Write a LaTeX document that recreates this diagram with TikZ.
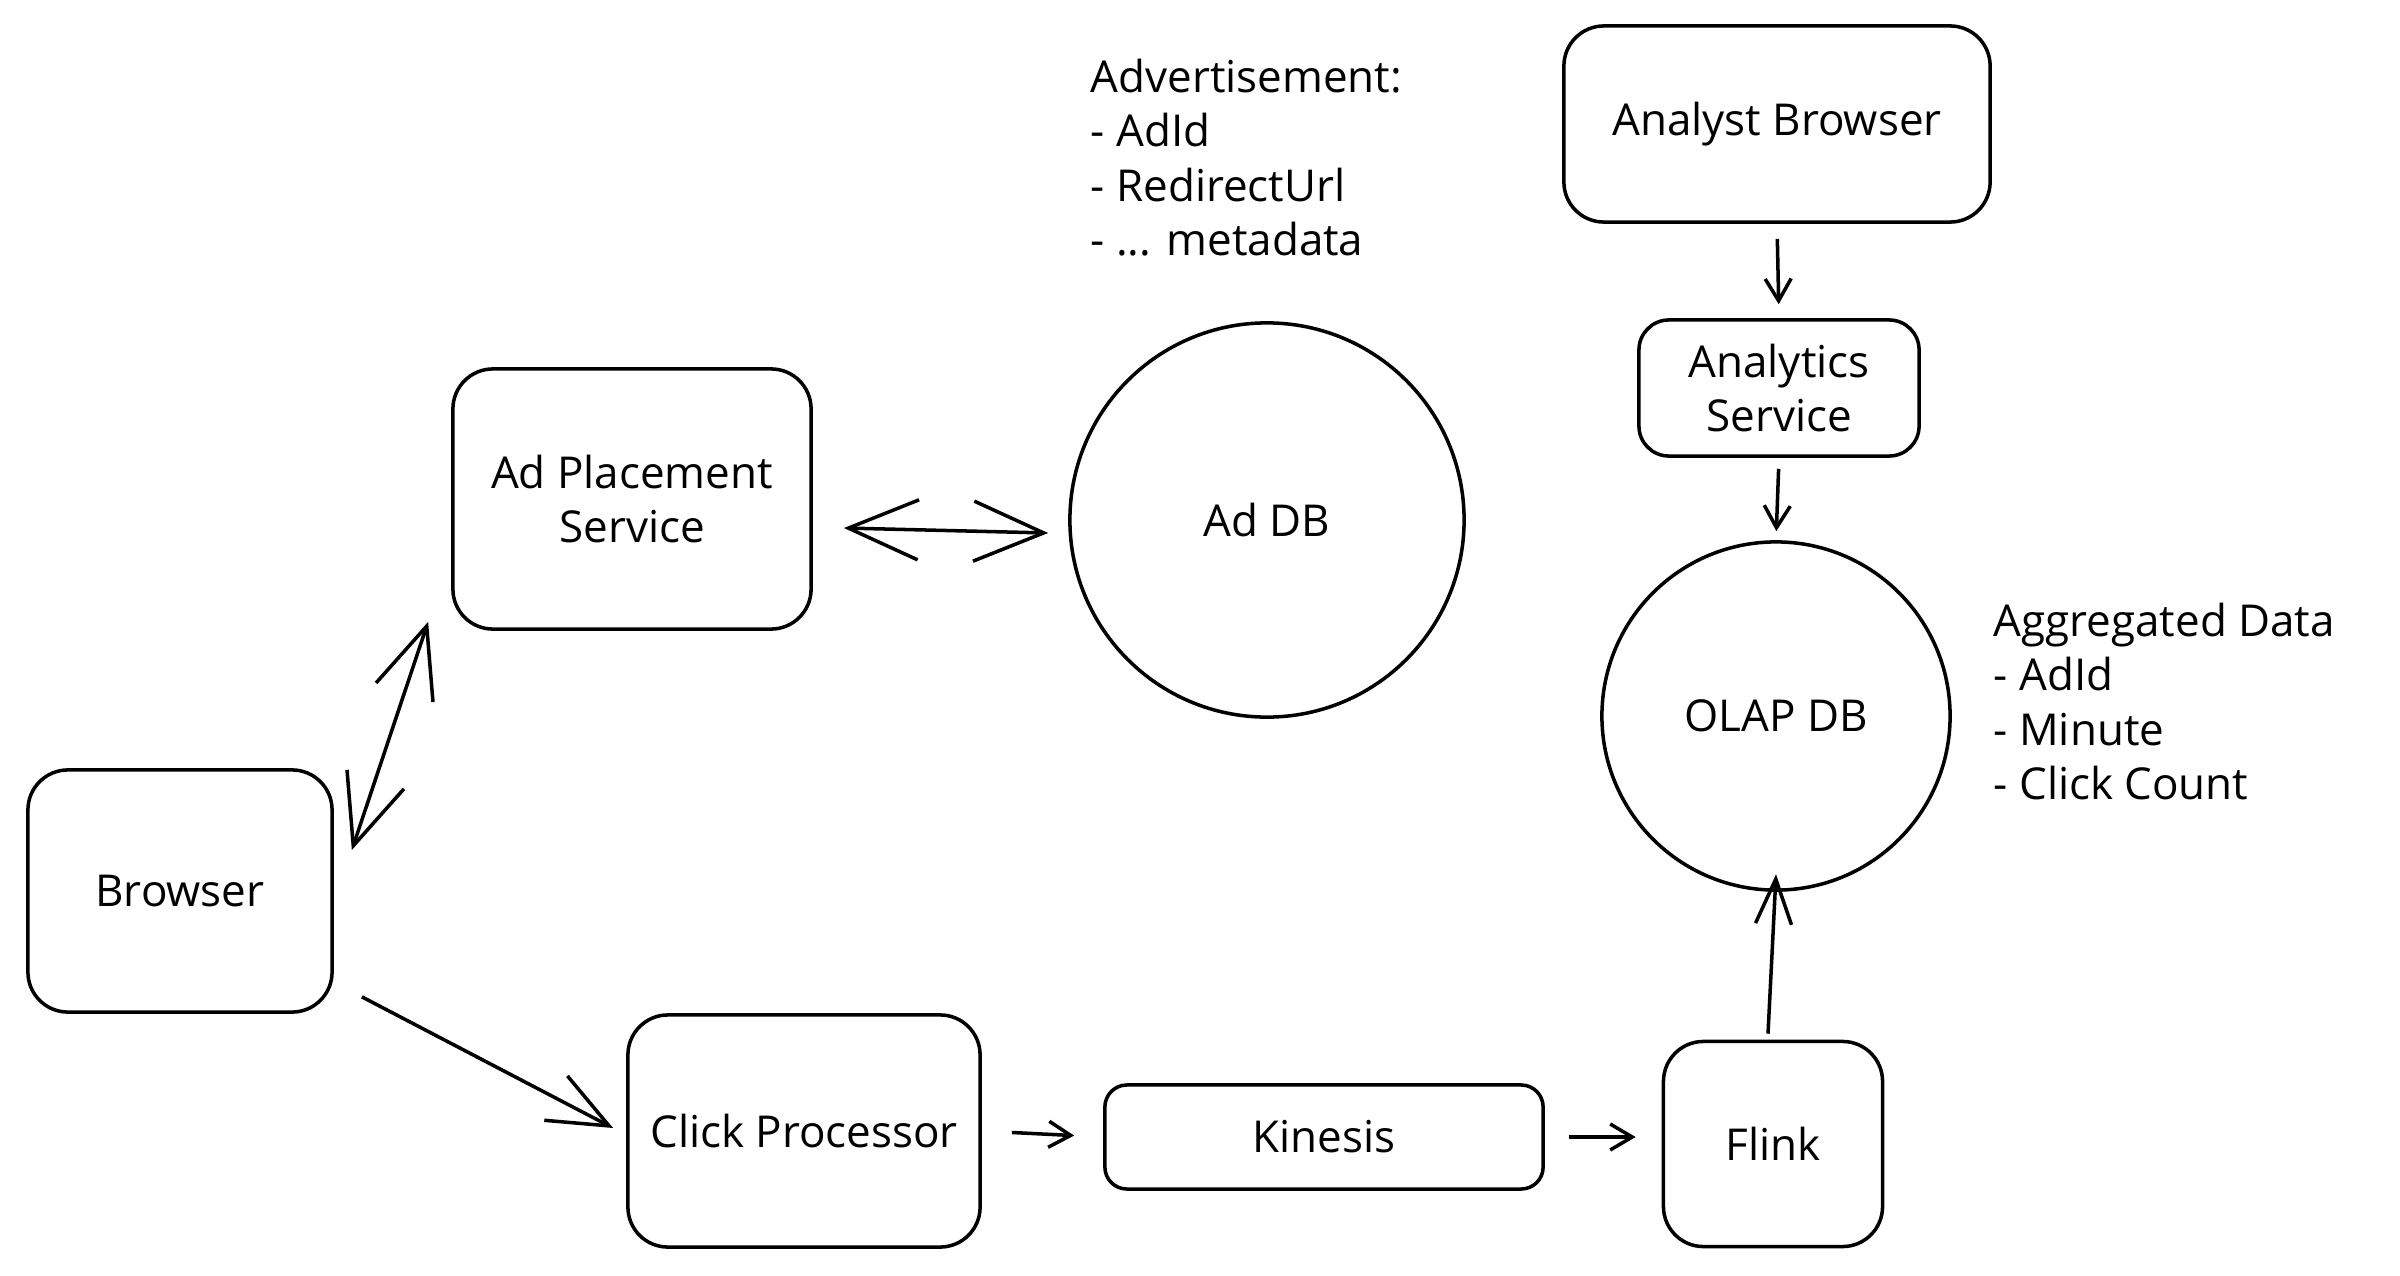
\documentclass[tikz,border=0pt]{standalone}
\usepackage{fontspec}
\setmainfont{Open Sans}
\usetikzlibrary{arrows.meta,calc}
\newcommand{\handfont}{\fontsize{12.5}{15.5}\selectfont}

\tikzset{
	box/.style={draw, line width=1pt, rounded corners=0.4cm, align=center, inner sep=0pt, font=\handfont},
	dbcircle/.style={draw, circle, line width=1pt, inner sep=0pt, font=\handfont},
	notes/.style={anchor=north west, align=left, inner sep=0pt, font=\handfont},
	bighead/.style={line width=1pt, {Straight Barb[length=0.7cm,width=0.6cm]}-{Straight Barb[length=0.7cm,width=0.6cm]}},
	longflow/.style={line width=1pt, -{Straight Barb[length=0.6cm,width=0.5cm]}},
	shortflow/.style={line width=1pt, -{Straight Barb[length=0.22cm,width=0.26cm]}}
}

\begin{document}
\begin{tikzpicture}[x=0.01cm, y=-0.01cm]
			%%%%% START %%%%%
			\useasboundingbox (0, 0) rectangle (2400, 1276);
			
			\node[box, minimum width=3.04cm, minimum height=2.42cm] (browser) at (180, 891) {Browser};
			\node[box, minimum width=3.58cm, minimum height=2.60cm] (adplace) at (632, 499) {Ad Placement\\Service};
			\node[dbcircle, minimum size=3.94cm] (addb) at (1267, 520) {Ad DB};
			\node[notes] (adnote) at (1090, 58) {Advertisement:\\- AdId\\- RedirectUrl\\- ... metadata};
			
			\node[box, minimum width=4.26cm, minimum height=1.96cm] (analyst) at (1777, 124) {Analyst Browser};
			\node[box, rounded corners=0.3cm, minimum width=2.80cm, minimum height=1.36cm] (analytics) at (1779, 388) {Analytics\\Service};
			\node[dbcircle, minimum size=3.48cm] (olap) at (1776, 716) {OLAP DB};
			\node[notes] (aggnote) at (1993, 602) {Aggregated Data\\- AdId\\- Minute\\- Click Count};
			
			\node[box, minimum width=3.52cm, minimum height=2.32cm] (clickproc) at (804, 1131) {Click Processor};
			\node[box, rounded corners=0.22cm, minimum width=4.38cm, minimum height=1.04cm] (kinesis) at (1324, 1137) {Kinesis};
			\node[box, minimum width=2.19cm, minimum height=2.05cm] (flink) at (1773, 1144) {Flink};
			
			% serving path
			\draw[bighead] ([shift={(18,-41)}]browser.east) -- ([shift={(-23,-9)}]adplace.south west);
			\draw[bighead] ([shift={(31,29)}]adplace.east) -- ([shift={(-20,13)}]addb.west);
			
			% click path
			\draw[longflow] ([shift={(28,-17)}]browser.south east) -- ([shift={(-13,-3)}]clickproc.west);
			\draw[shortflow, shorten <=0.3cm, shorten >=0.29cm] (clickproc.east) -- (kinesis.west);
			\draw[shortflow, shorten <=0.24cm, shorten >=0.26cm] (kinesis.east) -- (flink.west |- kinesis.east);
			\draw[line width=1pt, -{Straight Barb[length=0.45cm,width=0.36cm]}] ([shift={(-5,-6)}]flink.north) -- ([yshift=5]olap.south);
			
			% analytics path
			\draw[shortflow, shorten <=0.15cm, shorten >=0.14cm] (analyst.south) -- (analytics.north);
			\draw[shortflow, shorten <=0.11cm, shorten >=0.09cm] (analytics.south) -- (olap.north);
			%%%%% END %%%%%
\end{tikzpicture}
\end{document}
